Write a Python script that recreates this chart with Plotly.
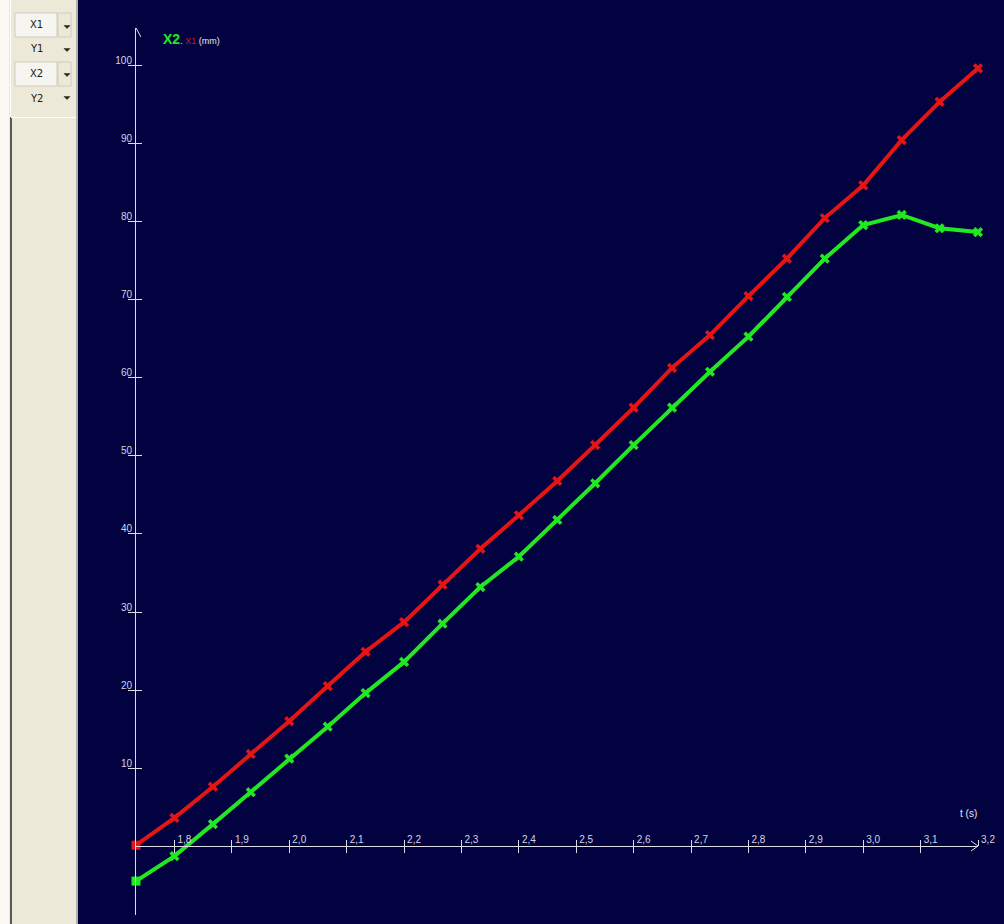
import plotly.graph_objects as go

# ---------------- data ----------------
t_s = [1.733, 1.800, 1.867, 1.933, 2.000, 2.067, 2.133, 2.200, 2.267, 2.333,
       2.400, 2.467, 2.533, 2.600, 2.667, 2.733, 2.800, 2.867, 2.933, 3.000,
       3.067, 3.133, 3.200]
x1_mm = [0.1, 3.6, 7.6, 11.8, 16.0, 20.5, 24.9, 28.7, 33.5, 38.1,
         42.4, 46.8, 51.4, 56.2, 61.3, 65.5, 70.5, 75.3, 80.5, 84.7,
         90.5, 95.4, 99.7]
x2_mm = [-4.5, -1.3, 2.8, 6.9, 11.2, 15.3, 19.6, 23.6, 28.5, 33.2,
         37.1, 41.8, 46.5, 51.4, 56.2, 60.8, 65.3, 70.4, 75.3, 79.6,
         80.9, 79.2, 78.7]
x_tick_vals = [1.8, 1.9, 2.0, 2.1, 2.2, 2.3, 2.4, 2.5, 2.6, 2.7, 2.8, 2.9, 3.0, 3.1, 3.2]
x_tick_text = ["1,8", "1,9", "2,0", "2,1", "2,2", "2,3", "2,4", "2,5", "2,6", "2,7",
               "2,8", "2,9", "3,0", "3,1", "3,2"]
y_tick_vals = [10, 20, 30, 40, 50, 60, 70, 80, 90, 100]
y_tick_text = ["10", "20", "30", "40", "50", "60", "70", "80", "90", "100"]
panel_labels = ["X1", "Y1", "X2", "Y2"]

# ---------------- geometry / style ----------------
W, H = 1004, 924
ML, MR, MT, MB = 136, 26, 28, 9
PW, PH = W - ML - MR, H - MT - MB
X_RANGE = [1.733, 3.2]
Y_RANGE = [-8.846, 104.87]
X_AXIS_POS = (0 - Y_RANGE[0]) / (Y_RANGE[1] - Y_RANGE[0])

NAVY = "#020240"
AXIS = "#dcdce4"
LABEL = "#d4d4e0"
RED = "#e51515"
GREEN = "#22e822"
BEIGE = "#ECE9D8"
FONT = "Liberation Sans, Arial, sans-serif"


def px(x):
    return (x - ML) / PW


def py(y):
    return (H - MB - y) / PH


def rect(x0, y0, x1, y1, fill, line=None, lw=1):
    return dict(type="rect", xref="paper", yref="paper",
                x0=px(x0), x1=px(x1), y0=py(y0), y1=py(y1),
                fillcolor=fill, line=dict(color=line or fill, width=lw if line else 0),
                layer="above")


def tri(cx, cy):
    path = (f"M {px(cx-3)},{py(cy-1.5)} L {px(cx+3)},{py(cy-1.5)} "
            f"L {px(cx)},{py(cy+1.5)} Z")
    return dict(type="path", xref="paper", yref="paper", path=path,
                fillcolor="#222222", line=dict(color="#222222", width=0.5), layer="above")


fig = go.Figure()

symbols = ["square"] + ["x"] * (len(t_s) - 1)
fig.add_trace(go.Scatter(
    x=t_s, y=x1_mm, mode="lines+markers", name="X1",
    line=dict(color=RED, width=4),
    marker=dict(symbol=symbols, size=9, color=RED, line=dict(width=0)),
    cliponaxis=False))
fig.add_trace(go.Scatter(
    x=t_s, y=x2_mm, mode="lines+markers", name="X2",
    line=dict(color=GREEN, width=4),
    marker=dict(symbol=symbols, size=9, color=GREEN, line=dict(width=0)),
    cliponaxis=False))
# empty trace so the overlay axes (other half of the crossing ticks) get drawn
fig.add_trace(go.Scatter(x=[], y=[], xaxis="x2", yaxis="y2", showlegend=False,
                         hoverinfo="skip"))

shapes = []
# left control panel
shapes.append(rect(0, 0, 78, H, BEIGE))
shapes.append(rect(0, 0, 9, H, "#FAF9F3"))
shapes.append(rect(76, 0, 78, H, "#B4B2A8"))
shapes.append(rect(10, 117, 12, H, "#5C5B52"))
shapes.append(dict(type="line", xref="paper", yref="paper",
                   x0=px(11), x1=px(76), y0=py(117.5), y1=py(117.5),
                   line=dict(color="#FFFFFF", width=1), layer="above"))
shapes.append(dict(type="line", xref="paper", yref="paper",
                   x0=px(10.5), x1=px(10.5), y0=py(0), y1=py(117),
                   line=dict(color="#FFFFFF", width=1), layer="above"))
for top in (13, 62):
    shapes.append(rect(15, top, 57, top + 24, "#F6F5F0", "#CFCCBF"))
    shapes.append(rect(58, top, 71, top + 24, BEIGE, "#CFCCBF"))
for cy in (27, 50, 75, 98):
    shapes.append(tri(67, cy))

# axis arrow heads (pixel sized, anchored to axis ends)
shapes.append(dict(type="path", xref="x", yref="y", xsizemode="pixel", ysizemode="pixel",
                   xanchor=X_RANGE[0], yanchor=Y_RANGE[1],
                   path="M -5,-9 L 0,0 L 5,-9", line=dict(color=AXIS, width=1)))
shapes.append(dict(type="path", xref="x", yref="y", xsizemode="pixel", ysizemode="pixel",
                   xanchor=X_RANGE[1], yanchor=0,
                   path="M -7,5 L 0,0 L -7,-5", line=dict(color=AXIS, width=1)))

annotations = []
for lab, cy in zip(panel_labels, (25, 49, 74, 98)):
    annotations.append(dict(xref="paper", yref="paper", x=px(36), y=py(cy),
                            text=lab, showarrow=False, xanchor="center", yanchor="middle",
                            font=dict(family="DejaVu Sans, sans-serif", size=10, color="#1a1a1a")))
annotations.append(dict(
    xref="paper", yref="paper", x=px(161), y=py(39), xanchor="left", yanchor="middle",
    showarrow=False, font=dict(family=FONT, size=9, color="#e8e8f0"),
    text=(f"<b><span style='color:{GREEN};font-size:14px'>X2</span></b>"
          f"<span style='color:#e8e8f0'>. </span>"
          f"<span style='color:#c81c2c'>X1</span>"
          f"<span style='color:#e8e8f0'> (mm)</span>")))
annotations.append(dict(
    xref="paper", yref="paper", x=px(968), y=py(813), xanchor="center", yanchor="middle",
    showarrow=False, text="t (s)", font=dict(family=FONT, size=10, color="#e8e8f0")))

fig.update_layout(
    width=W, height=H, autosize=False,
    margin=dict(l=ML, r=MR, t=MT, b=MB, pad=0),
    paper_bgcolor=NAVY, plot_bgcolor=NAVY,
    showlegend=False,
    shapes=shapes, annotations=annotations,
    xaxis=dict(range=X_RANGE, anchor="free", position=X_AXIS_POS, side="top",
               showline=True, linecolor=AXIS, linewidth=1,
               ticks="outside", ticklen=6, tickwidth=1, tickcolor=AXIS,
               tickmode="array", tickvals=x_tick_vals, ticktext=x_tick_text,
               tickfont=dict(family=FONT, size=10, color=LABEL),
               ticklabelshift=10, ticklabelstandoff=-7,
               showgrid=False, zeroline=False, fixedrange=True),
    xaxis2=dict(range=X_RANGE, overlaying="x", anchor="free", position=X_AXIS_POS,
                side="top", showline=False, ticks="inside", ticklen=6, tickwidth=1,
                tickcolor=AXIS, tickmode="array", tickvals=x_tick_vals,
                showticklabels=False, showgrid=False, zeroline=False, fixedrange=True),
    yaxis=dict(range=Y_RANGE, anchor="x", side="left",
               showline=True, linecolor=AXIS, linewidth=1,
               ticks="outside", ticklen=7, tickwidth=1, tickcolor=AXIS,
               tickmode="array", tickvals=y_tick_vals, ticktext=y_tick_text,
               tickfont=dict(family=FONT, size=10, color=LABEL),
               ticklabelshift=-5, ticklabelstandoff=-6,
               showgrid=False, zeroline=False, fixedrange=True),
    yaxis2=dict(range=Y_RANGE, overlaying="y", anchor="x", side="left",
                showline=False, ticks="inside", ticklen=6, tickwidth=1, tickcolor=AXIS,
                tickmode="array", tickvals=y_tick_vals, showticklabels=False,
                showgrid=False, zeroline=False, fixedrange=True),
)

fig.write_html("out.html", config={"displayModeBar": False},
               post_script="document.body.style.margin='0';document.body.style.overflow='hidden';")
